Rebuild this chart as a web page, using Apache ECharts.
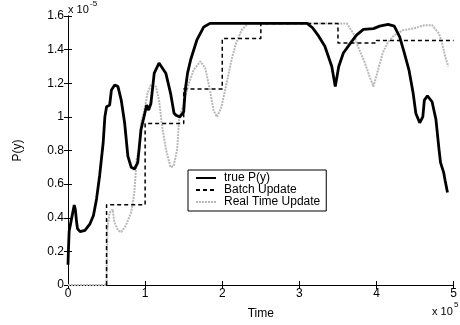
<!DOCTYPE html>
<html>
<head>
<meta charset="utf-8">
<script src="https://cdn.jsdelivr.net/npm/echarts@6/dist/echarts.min.js"></script>
<style>html,body{margin:0;padding:0;background:#fff;}#c{width:460px;height:325px;}</style>
</head>
<body>
<div id="c"></div>
<script>
// Units: time in 1e5, probability in 1e-5
var xTicks = [0, 1, 2, 3, 4, 5];
var yTicks = [0, 0.2, 0.4, 0.6, 0.8, 1, 1.2, 1.4, 1.6];

var trueX = [0, 0.005, 0.015, 0.04, 0.07, 0.081, 0.095, 0.11, 0.123, 0.157, 0.22, 0.285, 0.33, 0.37, 0.41, 0.456, 0.478, 0.50, 0.54, 0.563, 0.606, 0.648, 0.69, 0.734, 0.776, 0.82, 0.862, 0.904, 0.947, 0.99, 1.02, 1.045, 1.075, 1.118, 1.18, 1.268, 1.33, 1.374, 1.40, 1.45, 1.50, 1.52, 1.55, 1.59, 1.67, 1.76, 1.84, 3.10, 3.17, 3.25, 3.33, 3.42, 3.465, 3.51, 3.57, 3.66, 3.74, 3.83, 3.96, 4.04, 4.15, 4.23, 4.30, 4.36, 4.42, 4.475, 4.51, 4.56, 4.60, 4.62, 4.66, 4.72, 4.77, 4.81, 4.83, 4.87, 4.89, 4.92];
var trueY = [0.12, 0.20, 0.32, 0.38, 0.45, 0.475, 0.45, 0.38, 0.335, 0.317, 0.325, 0.364, 0.413, 0.512, 0.65, 0.846, 1.0, 1.06, 1.07, 1.16, 1.19, 1.18, 1.10, 0.965, 0.767, 0.70, 0.69, 0.728, 0.925, 1.01, 1.07, 1.04, 1.08, 1.26, 1.32, 1.26, 1.14, 1.023, 1.01, 1.00, 1.03, 1.16, 1.26, 1.34, 1.456, 1.535, 1.556, 1.556, 1.53, 1.48, 1.42, 1.30, 1.18, 1.30, 1.38, 1.437, 1.486, 1.52, 1.525, 1.54, 1.55, 1.54, 1.476, 1.38, 1.28, 1.14, 1.02, 0.965, 1.00, 1.10, 1.125, 1.09, 0.985, 0.807, 0.728, 0.67, 0.62, 0.55];

var batchX = [0.5, 0.5, 1.0, 1.5, 2.0, 2.5, 3.5, 4.0, 5.0];
var batchY = [0, 0.478, 0.96, 1.166, 1.466, 1.556, 1.44, 1.455, 1.455];

var rtX = [0, 0.5, 0.51, 0.54, 0.58, 0.60, 0.648, 0.69, 0.75, 0.82, 0.86, 0.89, 0.92, 0.947, 0.99, 1.03, 1.075, 1.14, 1.18, 1.22, 1.27, 1.33, 1.37, 1.416, 1.44, 1.48, 1.566, 1.63, 1.716, 1.78, 1.84, 1.886, 1.93, 1.99, 2.056, 2.12, 2.18, 2.25, 2.33, 3.615, 3.70, 3.76, 3.85, 3.91, 3.96, 4.02, 4.08, 4.15, 4.23, 4.34, 4.47, 4.62, 4.72, 4.81, 4.85, 4.89, 4.93];
var rtY = [0, 0, 0.335, 0.43, 0.45, 0.375, 0.325, 0.315, 0.354, 0.433, 0.55, 0.75, 0.79, 0.965, 1.04, 1.14, 1.19, 1.18, 1.10, 0.944, 0.807, 0.70, 0.708, 0.807, 0.984, 1.05, 1.20, 1.28, 1.33, 1.29, 1.16, 1.04, 1.00, 1.06, 1.20, 1.34, 1.44, 1.515, 1.555, 1.556, 1.496, 1.417, 1.32, 1.24, 1.18, 1.28, 1.38, 1.446, 1.486, 1.515, 1.525, 1.545, 1.545, 1.496, 1.437, 1.358, 1.30];

var seriesNames = ['true P(y)', 'Batch Update', 'Real Time Update'];
var xName = 'Time';
var yName = 'P(y)';

function pairs(xs, ys) { return xs.map(function (x, i) { return [x, ys[i]]; }); }

var FONT = '"Liberation Sans", Arial, Helvetica, sans-serif';
var chart = echarts.init(document.getElementById('c'), null, {renderer: 'canvas'});

var axisCommon = {
  type: 'value',
  axisLine: {show: true, lineStyle: {color: '#000', width: 1}},
  axisTick: {show: true, inside: true, length: 4, lineStyle: {color: '#000'}},
  splitLine: {show: false}
};

chart.setOption({
  animation: false,
  backgroundColor: '#fff',
  textStyle: {fontFamily: FONT},
  grid: {left: 68, right: 2, top: 16, bottom: 38, containLabel: false},
  legend: {
    orient: 'vertical',
    left: 188, top: 170,
    padding: [2, 6, 3, 7],
    itemGap: 0,
    itemWidth: 20, itemHeight: 12,
    backgroundColor: '#fff',
    borderColor: '#000', borderWidth: 1, borderRadius: 0,
    itemStyle: {opacity: 0},
    textStyle: {fontSize: 12, color: '#000', fontFamily: FONT, lineHeight: 12, padding: [0, 0, 0, 3]},
    data: seriesNames
  },
  xAxis: [
    Object.assign({}, axisCommon, {
      min: xTicks[0], max: xTicks[xTicks.length - 1], interval: 1,
      position: 'bottom',
      name: xName, nameLocation: 'middle', nameGap: 23,
      nameTextStyle: {fontSize: 12, color: '#000', fontFamily: FONT},
      axisLabel: {fontSize: 12, color: '#000', margin: 3, fontFamily: FONT}
    }),
    Object.assign({}, axisCommon, {
      min: xTicks[0], max: xTicks[xTicks.length - 1], interval: 1,
      position: 'top', axisLabel: {show: false}
    })
  ],
  yAxis: [
    Object.assign({}, axisCommon, {
      min: yTicks[0], max: yTicks[yTicks.length - 1], interval: 0.2,
      position: 'left',
      name: yName, nameLocation: 'middle', nameGap: 44,
      nameTextStyle: {fontSize: 12, color: '#000', fontFamily: FONT},
      axisLabel: {fontSize: 12, color: '#000', margin: 4, fontFamily: FONT}
    }),
    Object.assign({}, axisCommon, {
      min: yTicks[0], max: yTicks[yTicks.length - 1], interval: 0.2,
      position: 'right', axisLabel: {show: false}
    })
  ],
  series: [
    {
      name: seriesNames[2], type: 'line', data: pairs(rtX, rtY),
      symbol: 'none', z: 2,
      lineStyle: {color: '#b8b8b8', width: 2, type: [2, 1]},
      itemStyle: {color: '#b8b8b8'}
    },
    {
      name: seriesNames[1], type: 'line', data: pairs(batchX, batchY),
      step: 'end', symbol: 'none', z: 3,
      lineStyle: {color: '#000', width: 1.5, type: [4, 3]},
      itemStyle: {color: '#000'}
    },
    {
      name: seriesNames[0], type: 'line', data: pairs(trueX, trueY),
      symbol: 'none', z: 4,
      lineStyle: {color: '#000', width: 2.8},
      itemStyle: {color: '#000'}
    }
  ],
  graphic: [
    {type: 'text', left: 68, top: 4, style: {text: 'x 10', font: '11px ' + FONT, fill: '#000'}},
    {type: 'text', left: 90, top: 0, style: {text: '-5', font: '8px ' + FONT, fill: '#000'}},
    {type: 'text', left: 432, top: 306, style: {text: 'x 10', font: '11px ' + FONT, fill: '#000'}},
    {type: 'text', left: 454, top: 301, style: {text: '5', font: '8px ' + FONT, fill: '#000'}}
  ]
});
</script>
</body>
</html>
